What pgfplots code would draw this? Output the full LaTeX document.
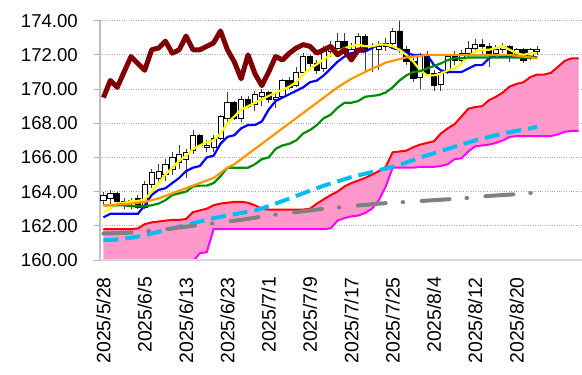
\documentclass[border=0pt]{standalone}
\usepackage{pgfplots}
\pgfplotsset{compat=1.18}
\usepackage{pgfplotstable}
\usepgfplotslibrary{fillbetween}
\usepackage{fontspec}
\setmainfont{Liberation Sans}
\newcommand\tfont{\fontsize{18.6bp}{20bp}\selectfont}
\newcommand\xfont{\fontsize{19.4bp}{21bp}\selectfont}
\definecolor{cdred}{RGB}{128,0,0}
\definecolor{cpink}{RGB}{255,153,204}
\definecolor{cmag}{RGB}{255,0,255}
\definecolor{ccyan}{RGB}{0,190,240}
\definecolor{cgray}{RGB}{128,128,128}
\definecolor{corange}{RGB}{255,150,0}
\definecolor{cgreen}{RGB}{0,140,0}
\definecolor{cyel}{RGB}{255,255,0}

\pgfplotstableread{
i O H L C
0 163.5 164.0 163.3 163.8
1 163.6 164.1 163.3 163.9
2 163.9 164.0 163.2 163.45
3 163.45 163.6 163.0 163.3
4 163.3 163.6 163.0 163.5
5 163.6 163.8 163.0 163.1
6 163.1 164.6 163.0 164.4
7 164.4 165.3 164.2 165.1
8 164.8 165.6 164.5 165.2
9 165.0 165.9 164.6 165.6
10 165.3 166.3 165.0 166.0
11 165.7 166.7 165.3 166.2
12 165.9 166.5 164.8 166.3
13 166.4 167.6 166.2 167.3
14 167.3 167.4 166.6 166.7
15 166.6 167.0 166.3 166.7
16 166.6 167.3 166.3 167.1
17 167.1 168.5 167.0 168.4
18 168.3 169.8 168.1 169.2
19 169.2 169.3 168.2 168.3
20 168.3 169.6 168.1 169.4
21 169.4 169.6 168.9 169.0
22 169.1 169.9 168.7 169.7
23 169.6 170.0 169.0 169.8
24 169.8 169.9 169.2 169.4
25 169.4 169.8 168.9 169.5
26 169.6 170.6 169.5 170.5
27 170.5 170.7 170.0 170.1
28 170.2 171.3 170.1 171.0
29 171.0 172.1 170.8 171.9
30 171.9 172.0 171.3 171.5
31 171.5 171.7 170.9 171.1
32 171.2 172.5 171.0 172.3
33 172.2 172.8 171.9 172.4
34 172.4 173.3 172.2 172.8
35 172.8 173.3 172.0 172.1
36 172.1 172.7 171.9 172.3
37 172.4 173.3 172.2 173.1
38 173.1 173.2 171.0 172.3
39 172.3 172.7 171.0 172.3
40 172.3 172.8 171.1 172.5
41 172.5 173.0 172.2 172.7
42 172.7 173.6 172.5 173.4
43 173.4 174.0 172.1 172.3
44 172.3 172.5 171.4 171.6
45 171.6 171.8 170.4 170.6
46 170.7 172.1 170.0 172.0
47 172.0 172.2 170.8 170.9
48 170.9 171.1 169.9 170.2
49 170.3 171.2 169.9 171.0
50 171.0 172.0 170.9 171.9
51 171.9 172.2 171.4 171.7
52 171.7 172.3 171.6 172.1
53 172.1 172.8 171.9 172.4
54 172.4 172.9 172.2 172.6
55 172.6 172.9 172.0 172.5
56 172.5 172.7 171.3 172.1
57 172.1 172.6 171.9 172.3
58 172.3 172.7 172.1 172.5
59 172.5 172.6 171.6 172.0
60 172.0 172.4 171.8 172.3
61 172.3 172.4 171.5 171.7
62 171.8 172.4 171.7 172.3
63 172.2 172.5 172.0 172.3
}\candles

\pgfplotstableread{
i Y B G Or
0 162.8 162.5 163.2 163.2
1 163.0 162.7 163.2 163.2
2 163.3 162.7 163.2 163.25
3 163.35 162.7 163.2 163.27
4 163.45 162.7 163.15 163.3
5 163.45 162.7 163.15 163.35
6 163.55 163.2 163.15 163.4
7 164.0 163.8 163.2 163.5
8 164.5 164.1 163.3 163.6
9 165.0 164.2 163.5 163.75
10 165.4 164.5 163.8 163.9
11 165.8 164.8 163.9 164.05
12 166.1 165.2 164.0 164.2
13 166.5 165.4 164.3 164.35
14 166.7 165.5 164.35 164.5
15 166.9 166.0 164.35 164.65
16 167.0 166.1 164.5 164.8
17 167.4 166.8 164.9 165.1
18 168.0 167.2 165.4 165.4
19 168.4 167.3 165.4 165.6
20 168.8 167.7 165.4 165.9
21 169.0 167.9 165.4 166.2
22 169.2 167.9 165.6 166.5
23 169.4 168.1 165.9 166.8
24 169.6 168.8 166.0 167.1
25 169.8 169.3 166.5 167.4
26 169.95 169.5 166.7 167.7
27 170.15 169.7 166.8 168.0
28 170.4 169.9 167.0 168.3
29 170.85 170.1 167.4 168.6
30 171.2 170.4 167.6 168.9
31 171.45 170.5 167.9 169.2
32 171.75 170.8 168.3 169.5
33 172.0 171.2 168.5 169.8
34 172.2 171.6 168.9 170.1
35 172.4 171.9 169.2 170.35
36 172.5 172.1 169.2 170.6
37 172.6 172.2 169.3 170.8
38 172.5 172.2 169.55 171.0
39 172.5 172.4 169.6 171.2
40 172.6 172.6 169.65 171.35
41 172.6 172.6 169.8 171.55
42 172.5 172.4 170.1 171.65
43 172.3 172.3 170.5 171.75
44 172.0 172.1 170.8 171.85
45 171.6 172.0 171.0 171.9
46 171.1 172.0 171.05 171.95
47 170.8 172.0 171.2 172.0
48 170.8 171.4 171.35 172.0
49 170.9 171.1 171.5 172.0
50 171.1 171.0 171.7 172.0
51 171.2 171.0 171.8 172.0
52 171.5 171.0 171.8 172.0
53 171.9 171.2 171.85 172.0
54 172.2 171.4 171.85 172.0
55 172.3 171.4 171.85 172.0
56 172.3 171.8 171.85 172.0
57 172.4 172.0 171.85 172.0
58 172.5 171.9 171.85 172.0
59 172.3 171.9 171.85 172.0
60 172.1 171.9 171.85 171.95
61 172.0 171.9 171.85 171.9
62 172.1 171.9 171.85 171.85
63 172.1 171.85 171.85 171.8
}\mas

\pgfplotstableread{
i K
0 169.5
1 170.5
2 170.1
3 171.0
4 171.9
5 171.5
6 171.1
7 172.3
8 172.4
9 172.8
10 172.1
11 172.3
12 173.1
13 172.3
14 172.3
15 172.5
16 172.7
17 173.4
18 172.3
19 171.6
20 170.6
21 172.0
22 170.9
23 170.2
24 171.0
25 171.9
26 171.7
27 172.1
28 172.4
29 172.6
30 172.5
31 172.1
32 172.3
33 172.5
34 172.0
35 172.3
36 171.7
37 172.3
38 172.3
}\chikou

\pgfplotstableread{
i R M
0 161.8 158.5
1 161.8 158.5
2 161.8 158.5
3 161.8 158.5
4 161.8 158.5
5 161.85 158.5
6 162.1 158.5
7 162.2 158.5
8 162.25 158.5
9 162.3 158.5
10 162.35 158.5
11 162.35 158.5
12 162.4 158.5
13 162.8 159.9
14 162.9 160.4
15 163.0 160.45
16 163.2 161.8
17 163.3 161.8
18 163.35 161.8
19 163.4 161.8
20 163.4 161.8
21 163.35 161.8
22 163.2 161.8
23 163.0 161.8
24 162.95 161.8
25 162.95 161.8
26 162.95 161.8
27 162.95 161.8
28 162.95 161.8
29 162.95 161.8
30 163.0 161.8
31 163.3 161.8
32 163.55 161.8
33 163.8 161.85
34 164.0 162.3
35 164.3 162.45
36 164.5 162.55
37 164.65 162.6
38 164.8 162.75
39 165.0 163.0
40 165.2 163.5
41 165.45 164.3
42 166.3 165.4
43 166.35 165.4
44 166.4 165.4
45 166.6 165.4
46 166.75 165.45
47 166.85 165.45
48 166.95 165.45
49 167.4 165.5
50 167.7 165.6
51 167.95 165.9
52 168.4 165.95
53 168.85 166.35
54 168.95 166.65
55 169.0 166.7
56 169.35 166.75
57 169.55 166.85
58 169.8 167.0
59 170.15 167.2
60 170.3 167.25
61 170.4 167.25
62 170.7 167.25
63 170.85 167.25
64 170.85 167.25
65 170.95 167.25
66 171.3 167.35
67 171.65 167.5
68 171.8 167.55
69 171.8 167.55
}\cloud

\pgfplotstableread{
i V
0 161.15
2 161.2
4 161.3
6 161.45
8 161.65
10 161.85
12 162.05
14 162.25
16 162.45
18 162.6
20 162.75
22 162.9
24 163.15
26 163.45
28 163.75
30 164.05
32 164.35
34 164.6
36 164.85
38 165.05
40 165.25
42 165.45
44 165.7
46 166.0
48 166.25
50 166.5
52 166.75
54 167.0
56 167.2
58 167.4
60 167.55
62 167.7
63 167.8
}\cyanl

\pgfplotstableread{
i V
0 161.55
4 161.6
8 161.75
12 161.95
16 162.15
20 162.35
24 162.6
28 162.8
32 163.0
36 163.15
40 163.3
44 163.4
48 163.5
52 163.6
56 163.75
60 163.85
63 163.95
}\grayl

\pgfplotsset{
  base/.style={width=482bp, height=239.3bp, scale only axis,
    at={(100bp,115bp)}, anchor=south west,
    xmin=-0.5, xmax=69.5, ymin=160, ymax=174},
}

\begin{document}
\begin{tikzpicture}
% ---------- axis 1: frame, grid, cloud, long lines, wicks
\begin{axis}[base,
  separate axis lines,
  axis x line*=bottom, axis y line*=left,
  x axis line style={-, draw=black!15, line width=2.5bp},
  y axis line style={-, draw=black!25, line width=1.2bp},
  ytick={160,162,...,174},
  xtick={0,6,...,60},
  xticklabels={2025/5/28,2025/6/5,2025/6/13,2025/6/23,2025/7/1,2025/7/9,2025/7/17,2025/7/25,2025/8/4,2025/8/12,2025/8/20},
  ymajorgrids,
  major grid style={draw=black!35, dotted, line width=0.9bp},
  tick align=outside, major tick length=6bp,
  xtick style={draw=none},
  ytick style={draw=black!30, line width=0.9bp},
  tick label style={font=\tfont},
  /pgf/number format/.cd, fixed, fixed zerofill, precision=2, assume math mode=true,
  /pgfplots/.cd,
  yticklabel style={anchor=east, inner sep=0pt, xshift=-16bp},
  xticklabel shift=11bp,
  xticklabel style={rotate=90, anchor=east, inner sep=0pt, font=\xfont},
]
\addplot[draw=none, name path=R] table[x=i, y=R] {\cloud};
\addplot[draw=none, name path=M] table[x=i, y=M] {\cloud};
\addplot[fill=cpink, draw=none] fill between[of=R and M];
\addplot[red, line width=2bp] table[x=i, y=R] {\cloud};
\addplot[cmag, line width=2bp] table[x=i, y=M] {\cloud};
\addplot[ccyan, line width=4bp, dash pattern=on 15bp off 7bp] table[x=i, y=V] {\cyanl};
\addplot[cgray, line width=4bp, line cap=round, dash pattern=on 28bp off 17bp on 0.5bp off 18.5bp] table[x=i, y=V] {\grayl};
\addplot[draw=none, mark=none, error bars/.cd, y dir=plus, y explicit, error mark=none,
  error bar style={draw=black!75, line width=0.9bp, solid}]
  table[x=i, y=L, y error plus expr={\thisrow{H}-\thisrow{L}}] {\candles};
\end{axis}
% ---------- axis 2: candle bodies
\begin{axis}[base, hide axis, ybar stacked, bar width=5.2bp]
\addplot[draw=none, fill=none] table[x=i, y expr={min(\thisrow{O},\thisrow{C})}] {\candles};
\addplot[fill=white, draw=black, line width=0.8bp] table[x=i, y expr={max(\thisrow{C}-\thisrow{O},0)}] {\candles};
\addplot[fill=black, draw=black, line width=0.8bp] table[x=i, y expr={max(\thisrow{O}-\thisrow{C},0)}] {\candles};
\end{axis}
% ---------- axis 3: moving averages and lagging line
\begin{axis}[base, hide axis, clip=false]
\addplot[blue, line width=2.2bp] table[x=i, y=B] {\mas};
\addplot[cyel, line width=2.2bp] table[x=i, y=Y] {\mas};
\addplot[cgreen, line width=2.2bp] table[x=i, y=G] {\mas};
\addplot[corange, line width=2.2bp] table[x=i, y=Or] {\mas};
\addplot[cdred, line width=5bp, line join=round] table[x=i, y=K] {\chikou};
\draw[black!15, line width=2.5bp] (rel axis cs:0,0) -- (rel axis cs:1,0);
\end{axis}
\pgfresetboundingbox
\path[use as bounding box] (0,0) rectangle (582bp,375bp);
\end{tikzpicture}
\end{document}
